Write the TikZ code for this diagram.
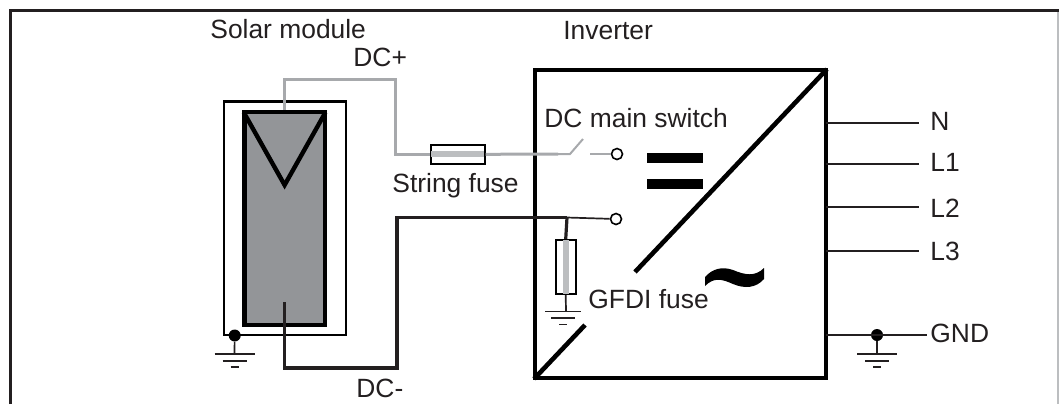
\documentclass[tikz,border=0pt]{standalone}
\usepackage{fontspec}
\setmainfont{Liberation Sans}
\usepackage{xcolor}
\usetikzlibrary{positioning}

\definecolor{inkdark}{HTML}{231F20}
\definecolor{cellgray}{HTML}{939598}
\definecolor{wiregray}{HTML}{A7A9AC}
\definecolor{bandgray}{HTML}{BCBEC0}

\tikzset{
  txt/.style={anchor=base west, inner sep=0pt, text=inkdark, font=\fontsize{13.2}{16}\selectfont},
  box/.style={draw=black, rectangle, inner sep=0pt},
  fusebox/.style={draw=black, rectangle, inner sep=0pt, line width=0.85pt},
  terminal/.style={draw=black, fill=white, circle, inner sep=0pt, minimum size=5.5pt, line width=0.8pt},
  dot/.style={fill=black, circle, inner sep=0pt, minimum size=6pt},
  wirepos/.style={draw=wiregray, line width=1.5pt},
  wireneg/.style={draw=inkdark, line width=1.6pt},
  thin wire/.style={draw=inkdark, line width=0.85pt},
  band/.style={draw=bandgray, line width=3pt, shorten >=0.6pt, shorten <=0.6pt},
  earth/.pic={
    \draw[thin wire] (-#1,0) -- (#1,0);
    \draw[thin wire] (-12,6.8) -- (12,6.8);
    \draw[thin wire] (-4,13) -- (4,13);
  }
}

\begin{document}
\begin{tikzpicture}[x=0.5pt, y=-0.5pt]

  \useasboundingbox (0,0) rectangle (1059,404);

  % frame
  \draw[inkdark, line width=1.5pt] (10,404) -- (10,10) -- (1059,10);
  \draw[bandgray, line width=0.6pt] (1058,12) -- (1058,404);

  % solar module
  \node[box, line width=1.4pt, minimum width=61pt, minimum height=116.75pt] (module) at (285,218.25) {};
  \node[box, fill=cellgray, line width=2.2pt, minimum width=40.1pt, minimum height=106.35pt] (cell) at (284.6,218.35) {};
  \coordinate (cellV) at (284.6,185);
  \draw[line width=2.2pt, shorten <=1.5pt, shorten >=1.5pt] (cell.north west) -- (cellV) -- (cell.north east);

  % inverter
  \node[box, line width=2.3pt, minimum width=145.5pt, minimum height=154pt] (inverter) at (680.5,224) {};
  \coordinate (diagA) at (635,272);
  \coordinate (diagB) at (585,325);
  \draw[line width=2.3pt, shorten <=1pt] (inverter.north east) -- (diagA);
  \draw[line width=2.3pt, shorten >=1pt] (diagB) -- (inverter.south west);

  \fill (647,153.3) rectangle (703,163.3);
  \fill (647,179) rectangle (703,189);
  \fill (705,286) -- (705,277) .. controls (712,269) and (722,266) .. (733,270)
    .. controls (745,275) and (755,277) .. (764,268) -- (764,279)
    .. controls (756,288) and (745,289) .. (733,284)
    .. controls (722,279) and (714,277) .. (705,286) -- cycle;

  % DC+ side
  \node[fusebox, minimum width=27pt, minimum height=9.65pt] (stringfuse) at (457.7,154.3) {};
  \node[terminal] (termpos) at (617,154) {};
  \coordinate (posA) at (395.7,79.5);
  \coordinate (swM) at (558,154);
  \coordinate (swL) at (570,154);
  \coordinate (swT) at (583,139);
  \coordinate (swR) at (590,154);

  \draw[wirepos] (cell.north) |- (posA) |- (stringfuse.west);
  \draw[band] (stringfuse.west) -- (stringfuse.east);
  \draw[wirepos] (stringfuse.east) -- (swM);
  \draw[wirepos, line width=1pt] (swM) -- (swL) -- (swT);
  \draw[wirepos, line width=1pt] (swR) -- (termpos);

  % DC- side
  \node[fusebox, minimum width=10pt, minimum height=27pt] (gfdifuse) at (565.7,267) {};
  \node[terminal] (termneg) at (616,219) {};
  \coordinate (negS) at (284.6,302);
  \coordinate (negA) at (397,368);
  \coordinate (negB) at (567,217.5);

  \draw[wireneg] (negS) |- (negA) |- (negB);
  \draw[thin wire] (negB) -- (termneg);
  \draw[wireneg] (negB) -- (gfdifuse.north);
  \draw[band] (gfdifuse.north) -- (gfdifuse.south);

  % grounds
  \node[dot] (dotmodule) at (234.7,335.5) {};
  \coordinate (gndmodule) at (234.5,354);
  \draw[thin wire] (dotmodule) -- (gndmodule);
  \pic at (gndmodule) {earth=20};

  \coordinate (gndfuse) at (566,311.5);
  \coordinate (gndfuseC) at (563,311.5);
  \draw[thin wire] (gfdifuse.south) -- (gndfuse);
  \pic at (gndfuseC) {earth=18};

  % outputs
  \foreach \name/\ypos/\lab/\ybase in {N/122.7/N/130.7, A/163.7/L1/171.7, B/206.7/L2/217.7, C/250.7/L3/260.7} {
    \coordinate (out\name) at (826,\ypos);
    \coordinate (end\name) at (919,\ypos);
    \draw[thin wire] (out\name) -- (end\name);
    \node[txt] (lab\name) at (930,\ybase) {\lab};
  }

  \coordinate (outG) at (826,335);
  \node[dot] (dotgnd) at (877,335) {};
  \node[txt] (labG) at (930,342.7) {GND};
  \coordinate (endG) at (926.7,335);
  \coordinate (gndout) at (877,354);
  \draw[thin wire] (outG) -- (endG);
  \draw[thin wire] (dotgnd) -- (gndout);
  \pic at (gndout) {earth=20};

  % labels
  \node[txt] (labsolar) at (210,38.5) {Solar module};
  \node[txt] (labinv) at (563,39) {Inverter};
  \node[txt] (labpos) at (353,66) {DC+};
  \node[txt] (labneg) at (356,397) {DC-};
  \node[txt] (labstring) at (392,192) {String fuse};
  \node[txt] (labswitch) at (544,127.7) {DC main switch};
  \node[txt] (labgfdi) at (588,308) {GFDI fuse};

\end{tikzpicture}
\end{document}
